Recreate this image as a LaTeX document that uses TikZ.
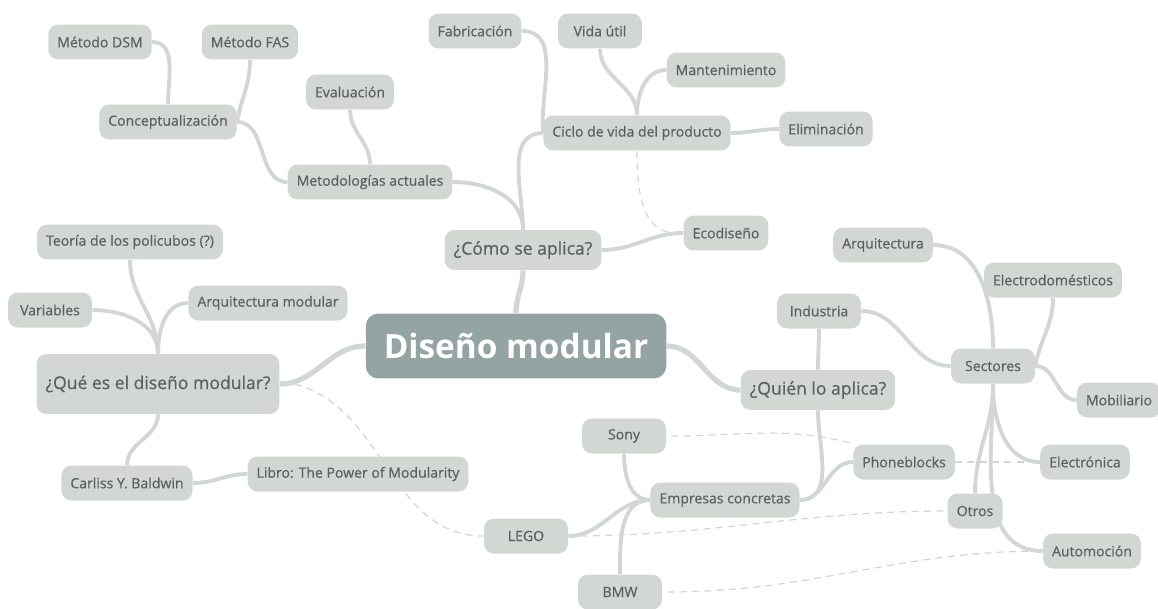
\documentclass[tikz,border=0pt]{standalone}
\usepackage{fontspec}
\setmainfont{Open Sans}
\newfontfamily\semifont{Open Sans}[FakeBold=0.6]
\usetikzlibrary{backgrounds}

\definecolor{nodegrey}{RGB}{211,215,212}
\definecolor{rootgrey}{RGB}{148,164,163}
\definecolor{inkgrey}{RGB}{92,97,94}
\definecolor{linkgrey}{RGB}{212,214,212}

\begin{document}
\begin{tikzpicture}[x=0.02cm,y=-0.02cm,
		leaf/.style={fill=nodegrey,text=inkgrey,rounded corners=0.2cm,minimum height=0.7cm,minimum width=1.68cm,inner xsep=0.18cm,font=\semifont\fontsize{8}{9}\selectfont},
		topic/.style={leaf,minimum height=0.8cm,font=\semifont\fontsize{10}{12}\selectfont},
		root/.style={fill=rootgrey,text=white,rounded corners=0.25cm,minimum height=1.3cm,inner xsep=0.36cm,font=\fontsize{19}{22}\selectfont\bfseries},
		branch/.style={draw=nodegrey,line width=2.2pt},
		trunk/.style={draw=nodegrey,line width=3pt},
		relation/.style={draw=linkgrey,line width=0.7pt,dash pattern=on 4pt off 3pt}]
		\useasboundingbox (0,0) rectangle (1158,608);
		\node[root] (Diseno) at (516,346) {Diseño modular};
		\node[topic] (Como) at (523,250) {¿Cómo se aplica?};
		\node[topic,minimum height=1.2cm] (Que) at (158,384) {¿Qué es el diseño modular?};
		\node[topic] (Quien) at (818,390) {¿Quién lo aplica?};

		\node[leaf] (Metodologias) at (370,182) {Metodologías actuales};
		\node[leaf] (Conceptualizacion) at (168,122) {Conceptualización};
		\node[leaf] (Evaluacion) at (350,92) {Evaluación};
		\node[leaf] (DSM) at (100,42) {Método DSM};
		\node[leaf] (FAS) at (250,42) {Método FAS};
		\node[leaf] (Ciclo) at (637,133) {Ciclo de vida del producto};
		\node[leaf] (Fabricacion) at (475,31) {Fabricación};
		\node[leaf] (Vida util) at (600,31) {Vida útil};
		\node[leaf] (Mantenimiento) at (726,70) {Mantenimiento};
		\node[leaf] (Eliminacion) at (826,129) {Eliminación};
		\node[leaf] (Ecodiseno) at (726,233) {Ecodiseño};

		\node[leaf] (Policubos) at (130,242) {Teoría de los policubos (?)};
		\node[leaf] (Variables) at (50,310) {Variables};
		\node[leaf] (Arquitectura modular) at (268,303) {Arquitectura modular};
		\node[leaf] (Baldwin) at (127,483) {Carliss Y. Baldwin};
		\node[leaf] (Libro) at (358,474) {Libro: The Power of Modularity};

		\node[leaf] (Industria) at (819,311) {Industria};
		\node[leaf] (Sectores) at (993,366) {Sectores};
		\node[leaf] (Arquitectura) at (883,245) {Arquitectura};
		\node[leaf] (Electrodomesticos) at (1053,280) {Electrodomésticos};
		\node[leaf] (Mobiliario) at (1119,400) {Mobiliario};
		\node[leaf] (Electronica) at (1085,462) {Electrónica};
		\node[leaf,minimum width=1.1cm] (Otros) at (975,511) {Otros};
		\node[leaf] (Automocion) at (1092,551) {Automoción};
		\node[leaf] (Empresas) at (725,500) {Empresas concretas};
		\node[leaf] (Phoneblocks) at (904,462) {Phoneblocks};
		\node[leaf] (Sony) at (624,436) {Sony};
		\node[leaf] (LEGO) at (526,536) {LEGO};
		\node[leaf] (BMW) at (620,592) {BMW};

		\begin{scope}[on background layer]
			\draw[trunk] (Diseno.north) to[out=90,in=-90] (Como.south);
			\draw[trunk] (Diseno.west) to[out=180,in=0] (Que.east);
			\draw[trunk] (Diseno.east) to[out=0,in=180] (Quien.west);
			\foreach \a/\o/\i/\b in {Como.north/90/0/Metodologias.east, Como.north/90/180/Ciclo.west, Como.east/0/180/Ecodiseno.west,
					Metodologias.west/180/0/Conceptualizacion.east, Metodologias.north/90/-90/Evaluacion.south,
					Conceptualizacion.north/90/0/DSM.east, Conceptualizacion.east/80/-90/FAS.south,
					Ciclo.west/95/0/Fabricacion.east, Ciclo.north/90/-90/Vida util.south, Ciclo.north/90/180/Mantenimiento.west, Ciclo.east/0/180/Eliminacion.west,
					Que.north/90/-90/Policubos.south, Que.north/90/0/Variables.east, Que.north/90/180/Arquitectura modular.west,
					Que.south/-90/90/Baldwin.north, Baldwin.east/0/180/Libro.west,
					Quien.north/90/-90/Industria.south, Quien.south/-90/0/Empresas.east,
					Industria.east/0/180/Sectores.west, Sectores.north/90/0/Arquitectura.east, Sectores.east/80/-90/Electrodomesticos.south,
					Sectores.east/0/180/Mobiliario.west, Sectores.south/-90/180/Electronica.west, Sectores.south/-90/90/Otros.north,
					Sectores.south/-90/180/Automocion.west,
					Empresas.west/180/-90/Sony.south, Empresas.west/180/0/LEGO.east, Empresas.west/180/90/BMW.north, Empresas.east/0/180/Phoneblocks.west}{
					\draw[branch] (\a) to[out=\o,in=\i] (\b);
				};
			\draw[relation] (Ciclo.south) to[out=-90,in=180] ([xshift=-0.15cm]Ecodiseno.west);
			\draw[relation] ([xshift=0.3cm]Que.east) to[out=-15,in=180] (LEGO.west);
			\draw[relation] ([xshift=0.1cm]Sony.east) to[out=0,in=165] (Phoneblocks.160);
			\draw[relation] (Phoneblocks.east) -- (Electronica.west);
			\draw[relation] (LEGO.east) to[out=0,in=180] (Otros.west);
			\draw[relation] ([xshift=0.1cm]BMW.east) to[out=0,in=180] (Automocion.west);
		\end{scope}
	\end{tikzpicture}
\end{document}
